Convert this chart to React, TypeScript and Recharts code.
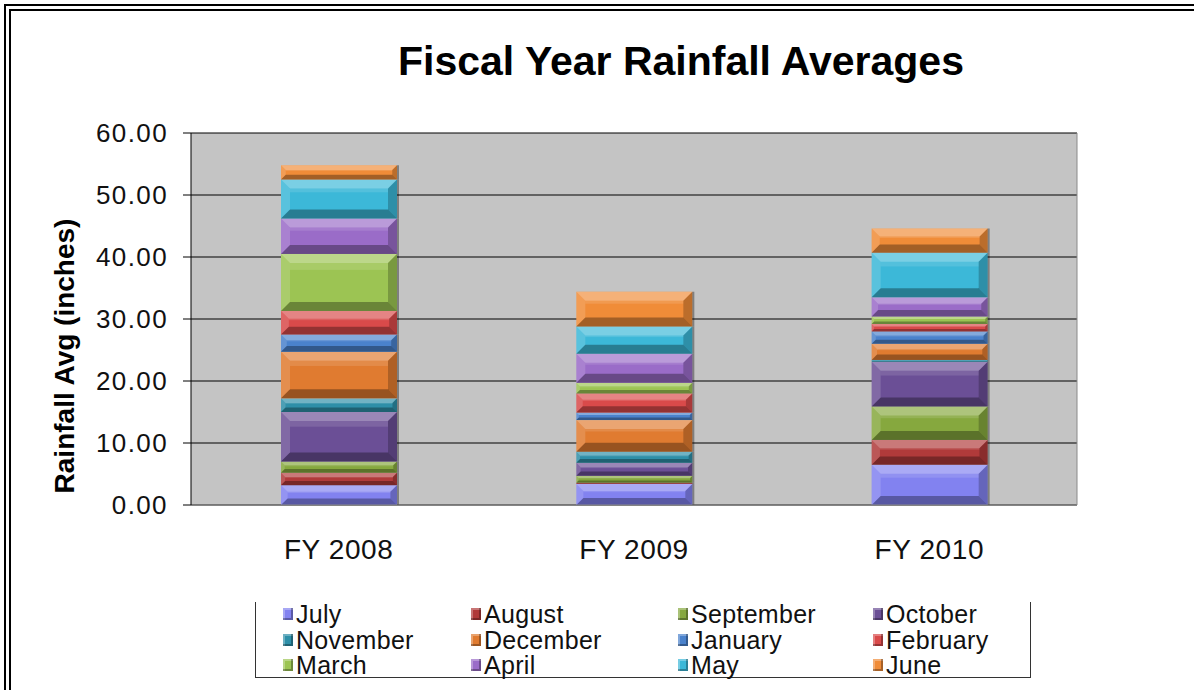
import React from 'react';
import { BarChart, Bar, XAxis, YAxis, CartesianGrid, Label } from 'recharts';

const categories = ['FY 2008', 'FY 2009', 'FY 2010'];
const months = ['July', 'August', 'September', 'October', 'November', 'December', 'January', 'February', 'March', 'April', 'May', 'June'];
const monthColors = ['#8282f0', '#b03a3a', '#86a83e', '#6b4f96', '#2e8fa8', '#e07b30', '#4a82cc', '#d94a4a', '#9cc453', '#9a6cc8', '#3cb8d8', '#f08c38'];
const fy2008 = [3.2, 2.0, 1.8, 8.0, 2.2, 7.5, 2.8, 3.8, 9.2, 5.7, 6.3, 2.3];
const fy2009 = [3.4, 0.2, 1.1, 2.1, 1.8, 5.1, 1.2, 3.1, 1.7, 4.7, 4.4, 5.6];
const fy2010 = [6.5, 4.0, 5.4, 7.2, 0.3, 2.6, 2.0, 1.2, 1.2, 3.1, 7.2, 3.9];
const yearValues = [fy2008, fy2009, fy2010];
const yTicks = [0, 10, 20, 30, 40, 50, 60];
const chartTitle = 'Fiscal Year Rainfall Averages';
const yTitle = 'Rainfall Avg (inches)';

const data = categories.map((c, i) => {
  const row: Record<string, string | number> = { name: c };
  months.forEach((m, j) => { row[m] = yearValues[i][j]; });
  return row;
});

const FONT = '"Liberation Sans", Arial, sans-serif';

function BevelBar(props: any) {
  const { x, y, width, height, fill } = props;
  if (!height || height <= 0 || !width) return null;
  const b = Math.max(0.5, Math.min(9, height / 3, width / 4));
  const x2 = x + width;
  const y2 = y + height;
  return (
    <g>
      <rect x={x} y={y} width={width} height={height} fill={fill} />
      <polygon points={`${x},${y} ${x2},${y} ${x2 - b},${y + b} ${x + b},${y + b}`} fill="#ffffff" fillOpacity={0.32} />
      <polygon points={`${x},${y} ${x + b},${y + b} ${x + b},${y2 - b} ${x},${y2}`} fill="#ffffff" fillOpacity={0.15} />
      <polygon points={`${x2},${y} ${x2},${y2} ${x2 - b},${y2 - b} ${x2 - b},${y + b}`} fill="#000000" fillOpacity={0.22} />
      <polygon points={`${x},${y2} ${x2},${y2} ${x2 - b},${y2 - b} ${x + b},${y2 - b}`} fill="#000000" fillOpacity={0.32} />
      {height > 10 && (
        <rect x={x + b} y={y + b} width={Math.max(0, width - 2 * b)} height={Math.max(1, (height - 2 * b) * 0.18)} fill="#ffffff" fillOpacity={0.12} />
      )}
      <line x1={x2 + 1} y1={y} x2={x2 + 1} y2={y2} stroke="#000" strokeOpacity={0.35} strokeWidth={2} />
    </g>
  );
}

const renderYTitle = (p: any) => {
  const vb = p.viewBox || { x: 0, y: 133 };
  const cx = vb.x + 64;
  const cy = 356;
  return (
    <text x={cx} y={cy} transform={`rotate(-90, ${cx}, ${cy})`} textAnchor="middle" dominantBaseline="central"
      fontFamily={FONT} fontWeight="bold" fontSize={28} fill="#000">{yTitle}</text>
  );
};

const legendCols = [296, 484, 691, 886];

export default function App() {
  return (
    <div style={{ position: 'absolute', left: 0, top: 0, width: 1194, height: 690, background: '#fff', fontFamily: FONT, overflow: 'hidden' }}>
      <div style={{ position: 'absolute', left: 4, top: 4, width: 1400, height: 900, borderLeft: '7px double #000', borderTop: '7px double #000', boxSizing: 'border-box' }} />
      <div style={{ position: 'absolute', left: 398, top: 41, fontSize: 41, lineHeight: '41px', fontWeight: 'bold', whiteSpace: 'nowrap', color: '#000' }}>{chartTitle}</div>
      <div style={{ position: 'absolute', left: 0, top: 0 }}>
        <BarChart width={1194} height={690} data={data} margin={{ top: 133, right: 116, bottom: 145, left: 0 }} barSize={116}>
          <CartesianGrid vertical={false} stroke="#000" strokeOpacity={1} fill="#c4c4c4" fillOpacity={1} />
          <XAxis dataKey="name" height={40} tickLine={false} axisLine={{ stroke: '#8a8a8a' }} tickSize={0} tickMargin={34}
            tick={{ fontSize: 28, fill: '#111', fontFamily: FONT, letterSpacing: 0.6 }} interval={0} />
          <YAxis width={191} domain={[0, 60]} ticks={yTicks} interval={0} tickFormatter={(v: number) => v.toFixed(2)}
            tickSize={8} tickMargin={15} axisLine={{ stroke: '#000' }} tickLine={{ stroke: '#000' }}
            tick={{ fontSize: 26, fill: '#111', fontFamily: FONT, letterSpacing: 1.4 }}>
            <Label content={renderYTitle} />
          </YAxis>
          <YAxis yAxisId="right" orientation="right" width={1} domain={[0, 60]} tick={false} tickLine={false} axisLine={{ stroke: '#8a8a8a' }} />
          {months.map((m, i) => (
            <Bar key={m} dataKey={m} stackId="a" fill={monthColors[i]} isAnimationActive={false} shape={(p: any) => <BevelBar {...p} />} />
          ))}
        </BarChart>
      </div>
      <div style={{ position: 'absolute', left: 255, top: 602, width: 776, height: 76, borderLeft: '1.5px solid #333', borderRight: '1.5px solid #333', borderBottom: '1.5px solid #333', boxSizing: 'border-box' }} />
      {months.map((m, i) => {
        const col = i % 4;
        const row = Math.floor(i / 4);
        const left = legendCols[col];
        const cy = 614 + row * 25.5;
        return (
          <React.Fragment key={m}>
            <div style={{ position: 'absolute', left: left - 13, top: cy - 6, width: 10, height: 12, background: monthColors[i], boxShadow: 'inset -2px -2px 0 rgba(0,0,0,0.3), inset 2px 2px 0 rgba(255,255,255,0.3)' }} />
            <div style={{ position: 'absolute', left, top: cy - 13, fontSize: 25, lineHeight: '26px', color: '#111', whiteSpace: 'nowrap', letterSpacing: 0.3 }}>{m}</div>
          </React.Fragment>
        );
      })}
    </div>
  );
}
